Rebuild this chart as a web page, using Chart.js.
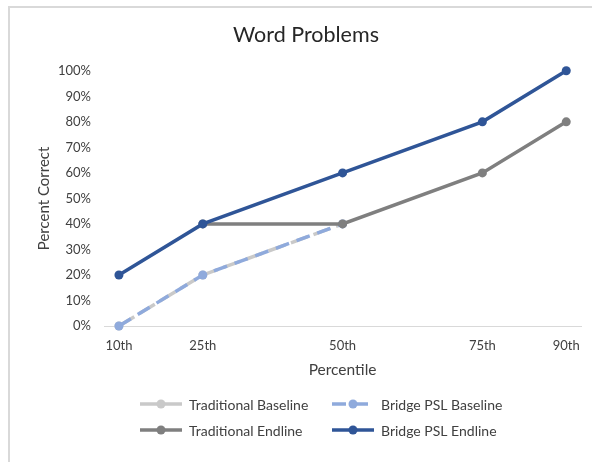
<!DOCTYPE html>
<html>
<head>
<meta charset="utf-8">
<script src="https://cdn.jsdelivr.net/npm/chart.js@4.4.1/dist/chart.umd.min.js"></script>
<style>
  html, body { margin: 0; padding: 0; background: #fff; }
  canvas { display: block; }
</style>
</head>
<body>
<canvas id="chart" width="592" height="462"></canvas>
<script>
// Chart data
const percentiles = [10, 25, 50, 75, 90];
const percentileLabels = ['10th', '25th', '50th', '75th', '90th'];
const traditionalBaseline = [0, 20, 40, null, null];
const bridgeBaseline = [0, 20, 40, null, null];
const traditionalEndline = [null, 40, 40, 60, 80];
const bridgeEndline = [20, 40, 60, 80, 100];

const FONT = "Lato, 'Open Sans', sans-serif";
const TEXT = '#404040';

function toPoints(values) {
  return percentiles.map((x, i) => ({ x: x, y: values[i] }));
}

function series(label, values, color, dash, order) {
  return {
    label: label,
    data: toPoints(values),
    borderColor: color,
    backgroundColor: color,
    pointBackgroundColor: color,
    pointBorderColor: color,
    borderWidth: 3.5,
    borderDash: dash,
    borderCapStyle: 'butt',
    pointRadius: 4.5,
    pointBorderWidth: 0,
    pointHoverRadius: 4.5,
    tension: 0,
    clip: false,
    order: order
  };
}

// Light frame round the chart, like the Excel chart border
const framePlugin = {
  id: 'frame',
  beforeDraw(chart) {
    const ctx = chart.ctx;
    ctx.save();
    ctx.fillStyle = '#d9d9d9';
    ctx.fillRect(8, 6, 2, chart.height);
    ctx.fillRect(8, 6, chart.width, 2);
    ctx.restore();
  }
};

// Two-column legend under the axis title
const legendPlugin = {
  id: 'twoColLegend',
  afterDraw(chart) {
    const ctx = chart.ctx;
    const colX = [140, 332];
    const rowY = [404, 430];
    ctx.save();
    ctx.font = '14px ' + FONT;
    ctx.textBaseline = 'middle';
    ctx.textAlign = 'left';
    chart.data.datasets.forEach((ds, i) => {
      const x0 = colX[i % 2];
      const y = rowY[Math.floor(i / 2)];
      ctx.strokeStyle = ds.borderColor;
      ctx.lineWidth = ds.borderWidth;
      ctx.setLineDash(ds.borderDash || []);
      ctx.beginPath();
      ctx.moveTo(x0, y);
      ctx.lineTo(x0 + 42, y);
      ctx.stroke();
      ctx.setLineDash([]);
      ctx.fillStyle = ds.borderColor;
      ctx.beginPath();
      ctx.arc(x0 + 21, y, 4.5, 0, Math.PI * 2);
      ctx.fill();
      ctx.fillStyle = TEXT;
      ctx.fillText(ds.label, x0 + 49, y + 1);
    });
    ctx.restore();
  }
};

new Chart(document.getElementById('chart'), {
  type: 'line',
  data: {
    datasets: [
      series('Traditional Baseline', traditionalBaseline, '#c9c9c9', [18, 6], 4),
      series('Bridge PSL Baseline', bridgeBaseline, '#8faadc', [14, 8], 3),
      series('Traditional Endline', traditionalEndline, '#7f7f7f', [], 2),
      series('Bridge PSL Endline', bridgeEndline, '#2f5597', [], 1)
    ]
  },
  options: {
    responsive: false,
    animation: false,
    layout: { padding: { left: 28, right: 8, top: 0, bottom: 81 } },
    scales: {
      x: {
        type: 'linear',
        min: 7.33,
        max: 92.67,
        afterBuildTicks: (scale) => {
          scale.ticks = percentiles.map(v => ({ value: v }));
        },
        afterFit: (scale) => { scale.height = 55; },
        grid: { display: false, drawTicks: false },
        border: { display: true, color: '#d9d9d9', width: 1 },
        ticks: {
          padding: 12,
          color: TEXT,
          font: { family: FONT, size: 13 },
          maxRotation: 0,
          callback: (value) => percentileLabels[percentiles.indexOf(value)]
        },
        title: {
          display: true,
          text: 'Percentile',
          color: TEXT,
          font: { family: FONT, size: 15.5 },
          padding: { top: 0, bottom: 2 }
        }
      },
      y: {
        min: 0,
        max: 100,
        afterFit: (scale) => { scale.width = 76; },
        grid: { display: false, drawTicks: false },
        border: { display: false },
        ticks: {
          stepSize: 10,
          padding: 13,
          color: TEXT,
          font: { family: FONT, size: 13 },
          callback: (value) => value + '%'
        },
        title: {
          display: true,
          text: 'Percent Correct',
          color: TEXT,
          font: { family: FONT, size: 15 },
          padding: { top: 7, bottom: 0 }
        }
      }
    },
    plugins: {
      legend: { display: false },
      tooltip: { enabled: false },
      title: {
        display: true,
        text: 'Word Problems',
        color: '#262626',
        font: { family: FONT, size: 21.5, weight: 'normal' },
        padding: { top: 22, bottom: 23 }
      }
    }
  },
  plugins: [framePlugin, legendPlugin]
});
</script>
